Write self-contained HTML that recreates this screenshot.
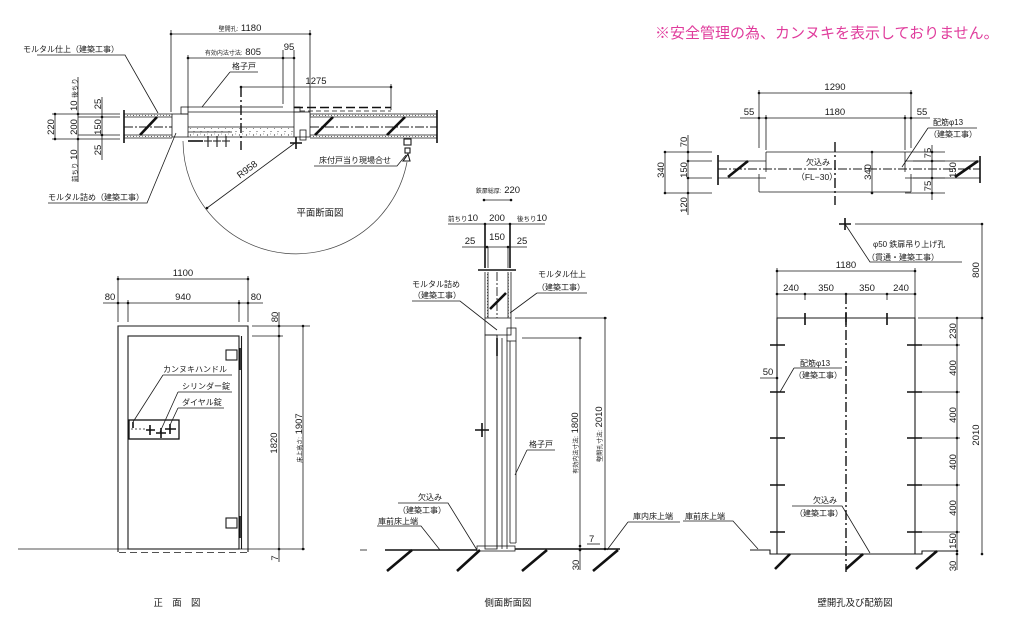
<!DOCTYPE html>
<html><head><meta charset="utf-8">
<style>
html,body{margin:0;padding:0;background:#fff;}
svg{display:block}
.l{stroke:#1a1a1a;stroke-width:0.8;fill:none}
.m{stroke:#1a1a1a;stroke-width:1.1;fill:none}
.b{stroke:#111;stroke-width:1.6;fill:none}
.h{stroke:#111;stroke-width:2.6;fill:none}
.d{stroke:#1a1a1a;stroke-width:0.9;fill:none;stroke-dasharray:9 2 2 2}
.dd{stroke:#111;stroke-width:1.4;fill:none;stroke-dasharray:10 3 2 3}
text{font-family:"Liberation Sans","Noto Sans CJK JP",sans-serif;fill:#1a1a1a}
.n{font-size:9.5px}
.j{font-size:8px}
.k{font-size:6px}
.tt{font-size:9.4px}
.c{text-anchor:middle}
.dot{fill:#111}
</style></head><body>
<svg width="1024" height="621" viewBox="0 0 1024 621" xmlns="http://www.w3.org/2000/svg">
<defs>
<pattern id="dp" width="6" height="3" patternUnits="userSpaceOnUse"><circle cx="1.5" cy="1.5" r="0.55" fill="#333"/><circle cx="4.5" cy="1.2" r="0.45" fill="#333"/></pattern>
<pattern id="cp" width="7" height="7" patternUnits="userSpaceOnUse"><circle cx="1.5" cy="2" r="0.6" fill="#333"/><circle cx="5" cy="5.5" r="0.55" fill="#333"/><circle cx="4.5" cy="1" r="0.4" fill="#333"/></pattern>
</defs>
<rect width="1024" height="621" fill="#fff"/>

<!-- ================= PLAN (top-left) ================= -->
<path class="l" d="M171,34H310 M171,30V112 M310,30V112"/>
<circle class="dot" cx="171" cy="34" r="1.3"/><circle class="dot" cx="310" cy="34" r="1.3"/>
<text class="c" x="240" y="31"><tspan class="k">壁開孔:</tspan><tspan class="n"> 1180</tspan></text>

<path class="l" d="M188,58H294 M188,55V108 M283,50V104 M294,50V108"/>
<circle class="dot" cx="188" cy="58" r="1.3"/><circle class="dot" cx="283" cy="58" r="1.3"/><circle class="dot" cx="294" cy="58" r="1.3"/>
<text class="c" x="233" y="55"><tspan class="k">有効内法寸法:</tspan><tspan class="n"> 805</tspan></text>
<text class="n c" x="289" y="50">95</text>

<text class="j c" x="244" y="69">格子戸</text>
<path class="l" d="M230,72H258 M230,72L202,107"/>

<path class="l" d="M241,87H391 M391,84V110"/>
<circle class="dot" cx="241" cy="87" r="1.3"/><circle class="dot" cx="391" cy="87" r="1.3"/>
<text class="n c" x="316" y="84">1275</text>
<path class="dd" d="M241,87V150"/>

<!-- walls -->
<rect x="124" y="114" width="48" height="3" fill="url(#dp)"/>
<rect x="124" y="135" width="48" height="3" fill="url(#dp)"/>
<rect x="310" y="114" width="127" height="3" fill="url(#dp)"/>
<rect x="310" y="135" width="127" height="3" fill="url(#dp)"/>
<path class="l" d="M124,114H172 M124,117H172 M124,135H172 M124,138H172 M310,114H437 M310,117H437 M310,135H437 M310,138H437"/>
<path class="d" d="M124,127H172 M310,127H437"/>
<path class="b" d="M124,110V143 M437,110V143"/>
<path class="h" d="M140,135L157,117 M315,135L333,117 M387,135L405,117"/>
<!-- frame -->
<rect x="172" y="114" width="16" height="23" fill="url(#cp)" class="l"/>
<rect x="181" y="107" width="7" height="7" class="l" fill="#fff"/>
<rect x="294" y="112" width="16" height="25" fill="url(#cp)" class="l"/>
<rect x="294" y="107" width="6" height="5" class="l" fill="#fff"/>
<rect x="300" y="130" width="6" height="10" class="l" fill="url(#dp)"/>
<!-- door leaf -->
<path class="l" d="M188,107H283 M188,112H294 M188,127H294 M188,132H232 M188,137H294"/>
<rect x="188" y="128" width="106" height="9" fill="url(#cp)"/>
<path class="b" d="M294,107.5H391" style="stroke-dasharray:9 4"/>
<path class="l" d="M300,111H391" style="stroke-dasharray:5 3"/>
<!-- handle -->
<path class="b" d="M188,141H203"/>
<path class="m" d="M208,136V147 M204,141H212 M217,136V147 M213,141H221 M226,136V147 M222,141H230"/>
<path class="b" d="M290,143H302 M296,137V149"/>
<!-- door stop -->
<rect x="404" y="139" width="7" height="6" class="m" fill="#fff"/>
<rect x="405" y="148" width="5" height="5" class="m" fill="#fff"/>
<path class="m" d="M403,161L408,154L410,161Z"/>
<!-- swing -->
<path d="M183,141A113,113 0 0 0 407,162" stroke="#444" stroke-width="0.7" fill="none"/>
<path class="l" d="M207,208L295,143"/>
<circle class="dot" cx="207" cy="208" r="1.3"/>
<text class="n c" transform="translate(249,172) rotate(-36.5)">R958</text>
<text class="tt c" x="320" y="216">平面断面図</text>
<text class="j c" x="355" y="163">床付戸当り現場合せ</text>
<path class="l" d="M314,166H397L406,155"/>

<!-- left dims -->
<path class="l" d="M55,114V139 M52,114H120 M52,139H120 M78,117H120 M78,135H120 M78,77V182 M102,97V160"/>
<circle class="dot" cx="55" cy="114" r="1.3"/><circle class="dot" cx="55" cy="139" r="1.3"/>
<circle class="dot" cx="78" cy="114" r="1.3"/><circle class="dot" cx="78" cy="139" r="1.3"/>
<circle class="dot" cx="102" cy="117" r="1.3"/><circle class="dot" cx="102" cy="135" r="1.3"/>
<text class="n c" transform="translate(54,127) rotate(-90)">220</text>
<text transform="translate(77,111) rotate(-90)"><tspan class="n">10 </tspan><tspan class="k" style="font-size:6.5px">後ちり</tspan></text>
<text class="n c" transform="translate(77,127) rotate(-90)">200</text>
<text transform="translate(77,182) rotate(-90)"><tspan class="k" style="font-size:6.5px">前ちり</tspan><tspan class="n"> 10</tspan></text>
<text class="n c" transform="translate(101,104) rotate(-90)">25</text>
<text class="n c" transform="translate(101,127) rotate(-90)">150</text>
<text class="n c" transform="translate(101,150) rotate(-90)">25</text>

<text class="j" x="23" y="52">モルタル仕上（建築工事）</text>
<path class="l" d="M37,55H125L158,113"/>
<text class="j" x="48" y="200">モルタル詰め（建築工事）</text>
<path class="l" d="M48,203H147L176,133"/>

<!-- ================= FRONT VIEW ================= -->
<path class="l" d="M118,279H248 M103,303H263 M118,276V322 M128,300V322 M239,300V322 M248,276V322"/>
<circle class="dot" cx="118" cy="279" r="1.3"/><circle class="dot" cx="248" cy="279" r="1.3"/>
<circle class="dot" cx="118" cy="303" r="1.3"/><circle class="dot" cx="128" cy="303" r="1.3"/>
<circle class="dot" cx="239" cy="303" r="1.3"/><circle class="dot" cx="248" cy="303" r="1.3"/>
<text class="n c" x="183" y="276">1100</text>
<text class="n c" x="183" y="300">940</text>
<text class="n c" x="110" y="300">80</text>
<text class="n c" x="256" y="300">80</text>
<path class="m" d="M118,552V326H248V552"/>
<rect x="128" y="336" width="111" height="213" class="m"/>
<path class="m" d="M241.5,336V549"/>
<path class="l" d="M18,549H305"/>
<path class="l" d="M119,552.5H247" style="stroke-dasharray:7 4"/>
<rect x="226" y="350" width="11" height="10" class="m" fill="#fff"/>
<path class="b" d="M240,348V370"/>
<rect x="226" y="518" width="11" height="10" class="m" fill="#fff"/>
<path class="b" d="M240,516V538"/>
<rect x="129" y="420" width="50" height="19" class="b" fill="#fff" style="stroke-width:1.3"/>
<path class="l" d="M131,429H146" style="stroke-dasharray:2 2"/>
<path class="b" d="M133,422V428 M146,430H155 M150,425V435 M156,433H166 M161,428V438 M165,429H176 M170,424V434"/>
<text class="j" x="163" y="372">カンヌキハンドル</text>
<path class="l" d="M163,375H232 M163,375L133,422"/>
<text class="j" x="182" y="389">シリンダー錠</text>
<path class="l" d="M178,392H232 M178,392L160,432"/>
<text class="j" x="182" y="405">ダイヤル錠</text>
<path class="l" d="M178,408H224 M178,408L170,425"/>
<path class="l" d="M279,312V562 M252,326H310 M252,336H283 M303,326V549"/>
<circle class="dot" cx="279" cy="326" r="1.3"/><circle class="dot" cx="279" cy="336" r="1.3"/><circle class="dot" cx="279" cy="549" r="1.3"/>
<circle class="dot" cx="303" cy="326" r="1.3"/><circle class="dot" cx="303" cy="549" r="1.3"/>
<text class="n c" transform="translate(278,317) rotate(-90)">80</text>
<text class="n c" transform="translate(277,443) rotate(-90)">1820</text>
<text class="n c" transform="translate(278,558) rotate(-90)">7</text>
<text class="c" transform="translate(302,438) rotate(-90)"><tspan class="k">床上高さ:</tspan><tspan class="n"> 1907</tspan></text>
<text class="tt c" x="177" y="606">正　面　図</text>

<!-- ================= SIDE SECTION ================= -->
<text class="c" x="498" y="193"><tspan class="k">鉄扉総厚:</tspan><tspan class="n"> 220</tspan></text>
<path class="l" d="M484,200H511"/>
<circle class="dot" cx="484" cy="200" r="1.3"/><circle class="dot" cx="511" cy="200" r="1.3"/>
<path class="l" d="M448,224H545"/>
<circle class="dot" cx="485" cy="224" r="1.3"/><circle class="dot" cx="510" cy="224" r="1.3"/>
<text x="448" y="221"><tspan class="k" style="font-size:6.5px">前ちり</tspan><tspan class="n">10</tspan></text>
<text class="n c" x="497" y="221">200</text>
<text x="517" y="221"><tspan class="k" style="font-size:6.5px">後ちり</tspan><tspan class="n">10</tspan></text>
<path class="l" d="M462,247H527"/>
<circle class="dot" cx="487" cy="247" r="1.3"/><circle class="dot" cx="508" cy="247" r="1.3"/>
<text class="n c" x="470" y="244">25</text>
<text class="n c" x="497" y="240">150</text>
<text class="n c" x="522" y="244">25</text>
<path class="b" d="M485,223V268 M510,223V268"/>
<path class="l" d="M488,247V268 M508,247V268"/>
<path class="b" d="M478,270H516"/>
<rect x="485" y="272" width="3" height="46" fill="url(#dp)"/>
<rect x="508" y="272" width="3" height="46" fill="url(#dp)"/>
<path class="l" d="M485,272V318 M511,272V318 M488,272V318 M508,272V318"/>
<path class="d" d="M497,272V318"/>
<path class="h" d="M490,309L506,293"/>
<rect x="485" y="318" width="26" height="17" fill="url(#cp)" class="l"/>
<rect x="485" y="335" width="12" height="214" fill="url(#cp)" class="l"/>
<path class="l" d="M497,335V549 M502,338V549 M507,340V549"/>
<rect x="507" y="328" width="9" height="13" class="l" fill="#fff"/>
<path class="l" d="M510,341V543 M516,341V543 M510,543H516"/>
<path class="b" d="M497,338V356"/>
<path class="b" d="M475,430H489 M482,423V437"/>
<path class="l" d="M360,550H367"/>
<path class="b" d="M385,550H477 M515,549H620"/>
<rect x="477" y="546" width="38" height="5" fill="url(#cp)" class="l"/>
<path class="h" d="M387,571L412,550 M457,571L480,550 M522,571L547,550 M593,571L618,550"/>
<path class="l" d="M515,318H607 M522,338H582 M605,318V550 M580,338V570"/>
<circle class="dot" cx="605" cy="318" r="1.3"/><circle class="dot" cx="605" cy="549" r="1.3"/>
<circle class="dot" cx="580" cy="338" r="1.3"/><circle class="dot" cx="580" cy="546" r="1.3"/><circle class="dot" cx="580" cy="550" r="1.3"/>
<text class="c" transform="translate(578,443) rotate(-90)"><tspan class="k">有効内法寸法:</tspan><tspan class="n"> 1800</tspan></text>
<text class="c" transform="translate(602,434) rotate(-90)"><tspan class="k">壁開孔寸法:</tspan><tspan class="n"> 2010</tspan></text>
<text class="n" x="589" y="542">7</text>
<path class="l" d="M587,544H600"/>
<text class="n c" transform="translate(579,565) rotate(-90)">30</text>
<text class="j" x="412" y="287">モルタル詰め</text>
<text class="j" x="413" y="298">（建築工事）</text>
<path class="l" d="M412,301H460L497,330"/>
<text class="j" x="538" y="277">モルタル仕上</text>
<text class="j" x="537" y="290">（建築工事）</text>
<path class="l" d="M537,293H587 M537,293L510,313"/>
<text class="j c" x="541" y="447">格子戸</text>
<path class="l" d="M527,450H555 M527,450L515,475"/>
<text class="j" x="418" y="500">欠込み</text>
<path class="l" d="M398,503H448L477,550"/>
<text class="j" x="398" y="513">（建築工事）</text>
<text class="j" x="378" y="524">庫前床上端</text>
<path class="l" d="M377,526H421L440,550"/>
<text class="j" x="633" y="519">庫内床上端</text>
<path class="l" d="M628,522H680 M628,522L607,550"/>
<text class="tt c" x="508" y="606">側面断面図</text>

<!-- ================= PINK NOTE ================= -->
<text x="655" y="38" style="font-size:15px;fill:#e03c9c">※安全管理の為、カンヌキを表示しておりません。</text>

<!-- ================= RIGHT PLAN ================= -->
<path class="l" d="M759,93H911 M740,118H930 M759,90V148 M766,115V150 M905,115V150 M911,90V148"/>
<circle class="dot" cx="759" cy="93" r="1.3"/><circle class="dot" cx="911" cy="93" r="1.3"/>
<circle class="dot" cx="759" cy="118" r="1.3"/><circle class="dot" cx="766" cy="118" r="1.3"/>
<circle class="dot" cx="905" cy="118" r="1.3"/><circle class="dot" cx="911" cy="118" r="1.3"/>
<text class="n c" x="835" y="90">1290</text>
<text class="n c" x="835" y="115">1180</text>
<text class="n c" x="749" y="115">55</text>
<text class="n c" x="922" y="115">55</text>
<path class="l" d="M766,152H905 M759,192H911 M766,152V172 M905,152V172 M759,174V192 M911,174V192"/>
<path class="l" d="M718,161H766 M718,178H766 M905,161H980 M905,178H980"/>
<path class="d" d="M718,169H980"/>
<path class="b" d="M718,155V185 M980,156V183"/>
<path class="h" d="M728,177L748,161 M955,177L978,161"/>
<path class="dd" d="M835,142V205"/>
<text class="j c" x="818" y="165">欠込み</text>
<text class="c" x="817" y="180" style="font-size:8.5px">（FL−30）</text>
<path class="l" d="M665,152V193 M688,135V215 M665,152H712 M665,193H712 M688,161H712 M688,178H712"/>
<circle class="dot" cx="665" cy="152" r="1.3"/><circle class="dot" cx="665" cy="193" r="1.3"/>
<circle class="dot" cx="688" cy="152" r="1.3"/><circle class="dot" cx="688" cy="161" r="1.3"/>
<circle class="dot" cx="688" cy="178" r="1.3"/><circle class="dot" cx="688" cy="193" r="1.3"/>
<text class="n c" transform="translate(664,170) rotate(-90)">340</text>
<text class="n c" transform="translate(687,142) rotate(-90)">70</text>
<text class="n c" transform="translate(687,170) rotate(-90)">150</text>
<text class="n c" transform="translate(687,205) rotate(-90)">120</text>
<path class="l" d="M872,152V193"/>
<circle class="dot" cx="872" cy="152" r="1.3"/><circle class="dot" cx="872" cy="193" r="1.3"/>
<text class="n c" transform="translate(871,172) rotate(-90)">340</text>
<path class="l" d="M932,145V200 M905,152H945 M905,193H945 M913,161H945 M913,178H945"/>
<circle class="dot" cx="932" cy="152" r="1.3"/><circle class="dot" cx="932" cy="161" r="1.3"/>
<circle class="dot" cx="932" cy="178" r="1.3"/><circle class="dot" cx="932" cy="193" r="1.3"/>
<text class="n c" transform="translate(931,153) rotate(-90)">75</text>
<text class="n c" transform="translate(931,186) rotate(-90)">75</text>
<text class="n c" transform="translate(956,170) rotate(-90)">150</text>
<text class="j" x="933" y="125">配筋φ13</text>
<text class="j" x="929" y="137">（建築工事）</text>
<path class="l" d="M928,128H977 M928,128L902,167"/>

<!-- ================= RIGHT ELEVATION ================= -->
<path class="b" d="M839,224H851 M845,218V230"/>
<path class="l" d="M855,224H982 M982,224V554 M845,224L870,262H962"/>
<circle class="dot" cx="982" cy="224" r="1.3"/><circle class="dot" cx="982" cy="318" r="1.3"/><circle class="dot" cx="982" cy="554" r="1.3"/>
<text class="n c" transform="translate(979,270) rotate(-90)">800</text>
<text class="j" x="873" y="247">φ50 鉄扉吊り上げ孔</text>
<text class="j" x="867" y="260">（貫通・建築工事）</text>
<path class="l" d="M777,271H915 M777,294H915 M777,268V323 M915,268V323 M805,294V300 M887,294V300"/>
<circle class="dot" cx="777" cy="271" r="1.3"/><circle class="dot" cx="915" cy="271" r="1.3"/>
<circle class="dot" cx="777" cy="294" r="1.3"/><circle class="dot" cx="805" cy="294" r="1.3"/>
<circle class="dot" cx="846" cy="294" r="1.3"/><circle class="dot" cx="887" cy="294" r="1.3"/><circle class="dot" cx="915" cy="294" r="1.3"/>
<text class="n c" x="846" y="268">1180</text>
<text class="n c" x="791" y="291">240</text>
<text class="n c" x="826" y="291">350</text>
<text class="n c" x="867" y="291">350</text>
<text class="n c" x="901" y="291">240</text>
<path class="m" d="M777,554V318H915V554"/>
<path class="b" d="M805,313V325 M887,313V325 M846,313V325"/>
<path class="dd" d="M846,294V572"/>
<path class="b" d="M770,345H785 M770,392H785 M770,438H785 M770,485H785 M770,532H785 M907,345H922 M907,392H922 M907,438H922 M907,485H922 M907,532H922"/>
<path class="l" d="M918,318H982 M957,318V570 M922,345H960 M922,392H960 M922,438H960 M922,485H960 M922,532H960"/>
<circle class="dot" cx="957" cy="318" r="1.3"/><circle class="dot" cx="957" cy="345" r="1.3"/>
<circle class="dot" cx="957" cy="392" r="1.3"/><circle class="dot" cx="957" cy="438" r="1.3"/>
<circle class="dot" cx="957" cy="485" r="1.3"/><circle class="dot" cx="957" cy="532" r="1.3"/>
<circle class="dot" cx="957" cy="551" r="1.3"/><circle class="dot" cx="957" cy="554" r="1.3"/>
<text class="n c" transform="translate(956,331) rotate(-90)">230</text>
<text class="n c" transform="translate(956,368) rotate(-90)">400</text>
<text class="n c" transform="translate(956,415) rotate(-90)">400</text>
<text class="n c" transform="translate(956,462) rotate(-90)">400</text>
<text class="n c" transform="translate(956,508) rotate(-90)">400</text>
<text class="n c" transform="translate(956,541) rotate(-90)">150</text>
<text class="n c" transform="translate(956,566) rotate(-90)">30</text>
<text class="n c" transform="translate(979,435) rotate(-90)">2010</text>
<path class="m" d="M750,550H770V554H922V551H957"/>
<path class="h" d="M775,569L790,554 M846,569L863,554 M916,569L937,551"/>
<text class="n c" x="768" y="375">50</text>
<path class="l" d="M760,378H777"/>
<circle class="dot" cx="777" cy="378" r="1.3"/>
<text class="j" x="800" y="366">配筋φ13</text>
<text class="j" x="794" y="378">（建築工事）</text>
<path class="l" d="M794,368H842 M794,368L780,392"/>
<text class="j" x="813" y="503">欠込み</text>
<text class="j" x="795" y="516">（建築工事）</text>
<path class="l" d="M792,506H842L870,553"/>
<text class="j" x="685" y="519">庫前床上端</text>
<path class="l" d="M683,521H733L758,549"/>
<text class="tt c" x="855" y="606">壁開孔及び配筋図</text>
</svg>
</body></html>
